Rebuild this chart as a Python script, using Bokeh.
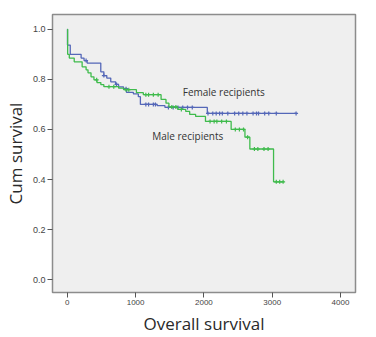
import numpy as np
from bokeh.plotting import figure
from bokeh.models import Range1d, FixedTicker, ColumnDataSource, PrintfTickFormatter
from bokeh.core.properties import value
from bokeh.embed import file_html
from bokeh.resources import INLINE

# Kaplan-Meier estimates: event times (days) and survival after each event
female_times = [0, 2, 43, 202, 245, 290, 490, 535, 578, 636, 708, 751, 824, 867,
                968, 1040, 1070, 1315, 1430, 2050]
female_surv = [1.0, 0.937, 0.90, 0.885, 0.875, 0.865, 0.83, 0.815, 0.805, 0.79,
               0.78, 0.77, 0.763, 0.748, 0.742, 0.731, 0.70, 0.695, 0.688, 0.664]
female_end = 3350
female_censored = [275, 535, 720, 860, 1150, 1190, 1260, 1290, 1480, 1550, 1620,
                   1690, 1760, 1830, 2060, 2130, 2180, 2230, 2270, 2350, 2450, 2510,
                   2570, 2630, 2720, 2770, 2800, 2890, 2950, 3060, 3350]

male_times = [0, 5, 29, 101, 217, 275, 303, 347, 390, 434, 491, 535, 751, 824,
              1012, 1113, 1373, 1445, 1488, 1618, 1734, 1792, 1879, 2023, 2399,
              2601, 2673, 3020]
male_surv = [1.0, 0.90, 0.885, 0.87, 0.85, 0.838, 0.826, 0.81, 0.798, 0.787,
             0.779, 0.771, 0.765, 0.759, 0.747, 0.739, 0.72, 0.705, 0.69, 0.68,
             0.672, 0.66, 0.652, 0.632, 0.60, 0.569, 0.522, 0.391]
male_end = 3165
male_censored = [430, 610, 680, 860, 900, 1150, 1190, 1260, 1330, 1530, 1590,
                 1670, 2090, 2150, 2190, 2260, 2330, 2460, 2520, 2580, 2640, 2740,
                 2790, 2880, 2940, 3060, 3110, 3160]

x_ticks = [0, 1000, 2000, 3000, 4000]
y_ticks = [0.0, 0.2, 0.4, 0.6, 0.8, 1.0]

FEMALE_COLOR = "#5467b8"
MALE_COLOR = "#3fbb4c"


def surv_at(times, surv, t):
    idx = np.searchsorted(np.asarray(times), np.asarray(t), side="right") - 1
    return np.asarray(surv)[idx]


p = figure(width=376, height=337, output_backend="svg", toolbar_location=None,
           x_range=Range1d(-217, 4220), y_range=Range1d(-0.051, 1.059),
           min_border_left=48, min_border_right=21, min_border_top=14,
           min_border_bottom=42)

p.border_fill_color = "white"
p.background_fill_color = "#efefef"
p.outline_line_color = "#8c8c8c"
p.outline_line_width = 1.5
p.grid.visible = False

for times, surv, end, cens, color in [
    (female_times, female_surv, female_end, female_censored, FEMALE_COLOR),
    (male_times, male_surv, male_end, male_censored, MALE_COLOR),
]:
    xs = list(times) + [end]
    ys = list(surv) + [surv[-1]]
    p.step(xs, ys, mode="after", line_color=color, line_width=1.3)
    cy = surv_at(times, surv, cens)
    p.scatter(cens, cy, marker="cross", size=4, line_color=color, line_width=1.2)

labels = ColumnDataSource(dict(x=[1690, 1243], y=[0.751, 0.573],
                               text=["Female recipients", "Male recipients"]))
p.text(x="x", y="y", text="text", source=labels, text_font=value("Open Sans"),
       text_font_size="10px", text_color="#333333", text_align="left",
       text_baseline="middle")

p.xaxis.ticker = FixedTicker(ticks=x_ticks)
p.yaxis.ticker = FixedTicker(ticks=y_ticks)
p.yaxis.formatter = PrintfTickFormatter(format="%.1f")

for ax in (p.xaxis[0], p.yaxis[0]):
    ax.axis_line_color = None
    ax.major_tick_line_color = "#555555"
    ax.major_tick_in = 0
    ax.major_tick_out = 5
    ax.minor_tick_line_color = None
    ax.major_label_text_font = "Liberation Sans"
    ax.major_label_text_color = "#444444"
    ax.axis_label_text_font = "Open Sans"
    ax.axis_label_text_font_style = "normal"
    ax.axis_label_text_font_size = "17px"
    ax.axis_label_text_color = "#2a2a2a"

p.xaxis.major_label_text_font_size = "8px"
p.yaxis.major_label_text_font_size = "9px"
p.xaxis.axis_label = "Overall survival"
p.yaxis.axis_label = "Cum survival"
p.xaxis.major_label_standoff = 2
p.yaxis.major_label_standoff = 2
p.xaxis.axis_label_standoff = 4
p.yaxis.axis_label_standoff = 3

open("out.html", "w").write(file_html(p, INLINE))
